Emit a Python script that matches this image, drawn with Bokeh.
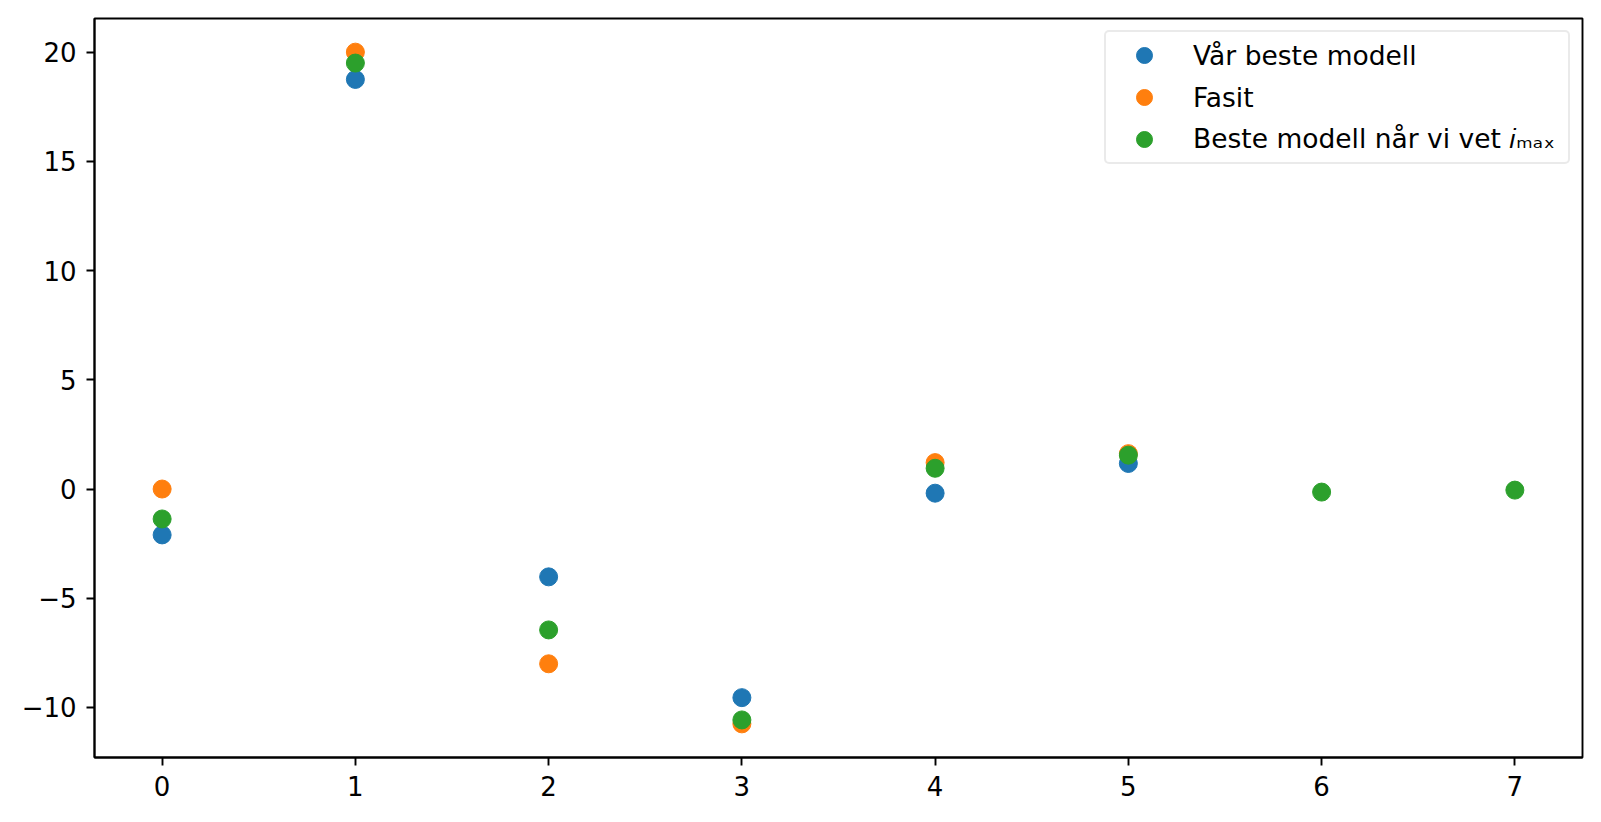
from bokeh.plotting import figure
from bokeh.models import Range1d, FixedTicker, Legend, LegendItem
from bokeh.embed import file_html
from bokeh.resources import INLINE

# ---- data ----
x_model = [0, 1, 2, 3, 4, 5]
vaar_beste = [-2.1, 18.75, -4.02, -9.55, -0.19, 1.17]
fasit = [0.0, 20.0, -8.0, -10.75, 1.21, 1.62]
x_imax = [0, 1, 2, 3, 4, 5, 6, 7]
beste_imax = [-1.37, 19.5, -6.45, -10.57, 0.95, 1.55, -0.14, -0.05]

x_ticks = [0, 1, 2, 3, 4, 5, 6, 7]
y_ticks = [-10, -5, 0, 5, 10, 15, 20]
y_tick_labels = {-10: "\u221210", -5: "\u22125", 0: "0", 5: "5", 10: "10", 15: "15", 20: "20"}

labels = ["Vår beste modell", "Fasit", "Beste modell når vi vet \U0001D456\u2098\u2090\u2093"]
colors = ["#1f77b4", "#ff7f0e", "#2ca02c"]

FONT = "DejaVu Sans"
FS = "26px"

p = figure(width=1590, height=814, output_backend="svg", toolbar_location=None,
           x_range=Range1d(-0.35, 7.35), y_range=Range1d(-12.29, 21.54),
           min_border_left=94, min_border_right=8, min_border_top=18, min_border_bottom=57)

p.xgrid.visible = False
p.ygrid.visible = False
p.outline_line_color = "black"
p.outline_line_width = 1.9
p.background_fill_color = "white"
p.border_fill_color = "white"

for ax in (p.xaxis[0], p.yaxis[0]):
    ax.axis_line_color = "black"
    ax.axis_line_width = 1.9
    ax.major_tick_line_color = "black"
    ax.major_tick_line_width = 1.9
    ax.major_tick_out = 8
    ax.major_tick_in = 0
    ax.minor_tick_line_color = None
    ax.major_label_text_font = FONT
    ax.major_label_text_font_size = FS
    ax.major_label_text_color = "black"
    ax.major_label_standoff = 10

p.xaxis.ticker = FixedTicker(ticks=x_ticks)
p.yaxis.ticker = FixedTicker(ticks=y_ticks)
p.yaxis.major_label_overrides = y_tick_labels

r1 = p.scatter(x_model, vaar_beste, size=18, color=colors[0])
r2 = p.scatter(x_model, fasit, size=18, color=colors[1])
r3 = p.scatter(x_imax, beste_imax, size=18, color=colors[2])

legend = Legend(items=[LegendItem(label=labels[0], renderers=[r1]),
                       LegendItem(label=labels[1], renderers=[r2]),
                       LegendItem(label=labels[2], renderers=[r3])],
                location="top_right", margin=12, padding=3,
                glyph_width=70, glyph_height=40, label_standoff=14,
                label_height=40, label_width=372, spacing=2,
                label_text_font=FONT, label_text_font_size="26.5px",
                label_text_color="black",
                border_line_color="#d6d6d6", border_line_width=2,
                border_radius=5,
                background_fill_color="white", background_fill_alpha=0.8)
p.add_layout(legend, "center")

open("out.html", "w").write(file_html(p, INLINE))
